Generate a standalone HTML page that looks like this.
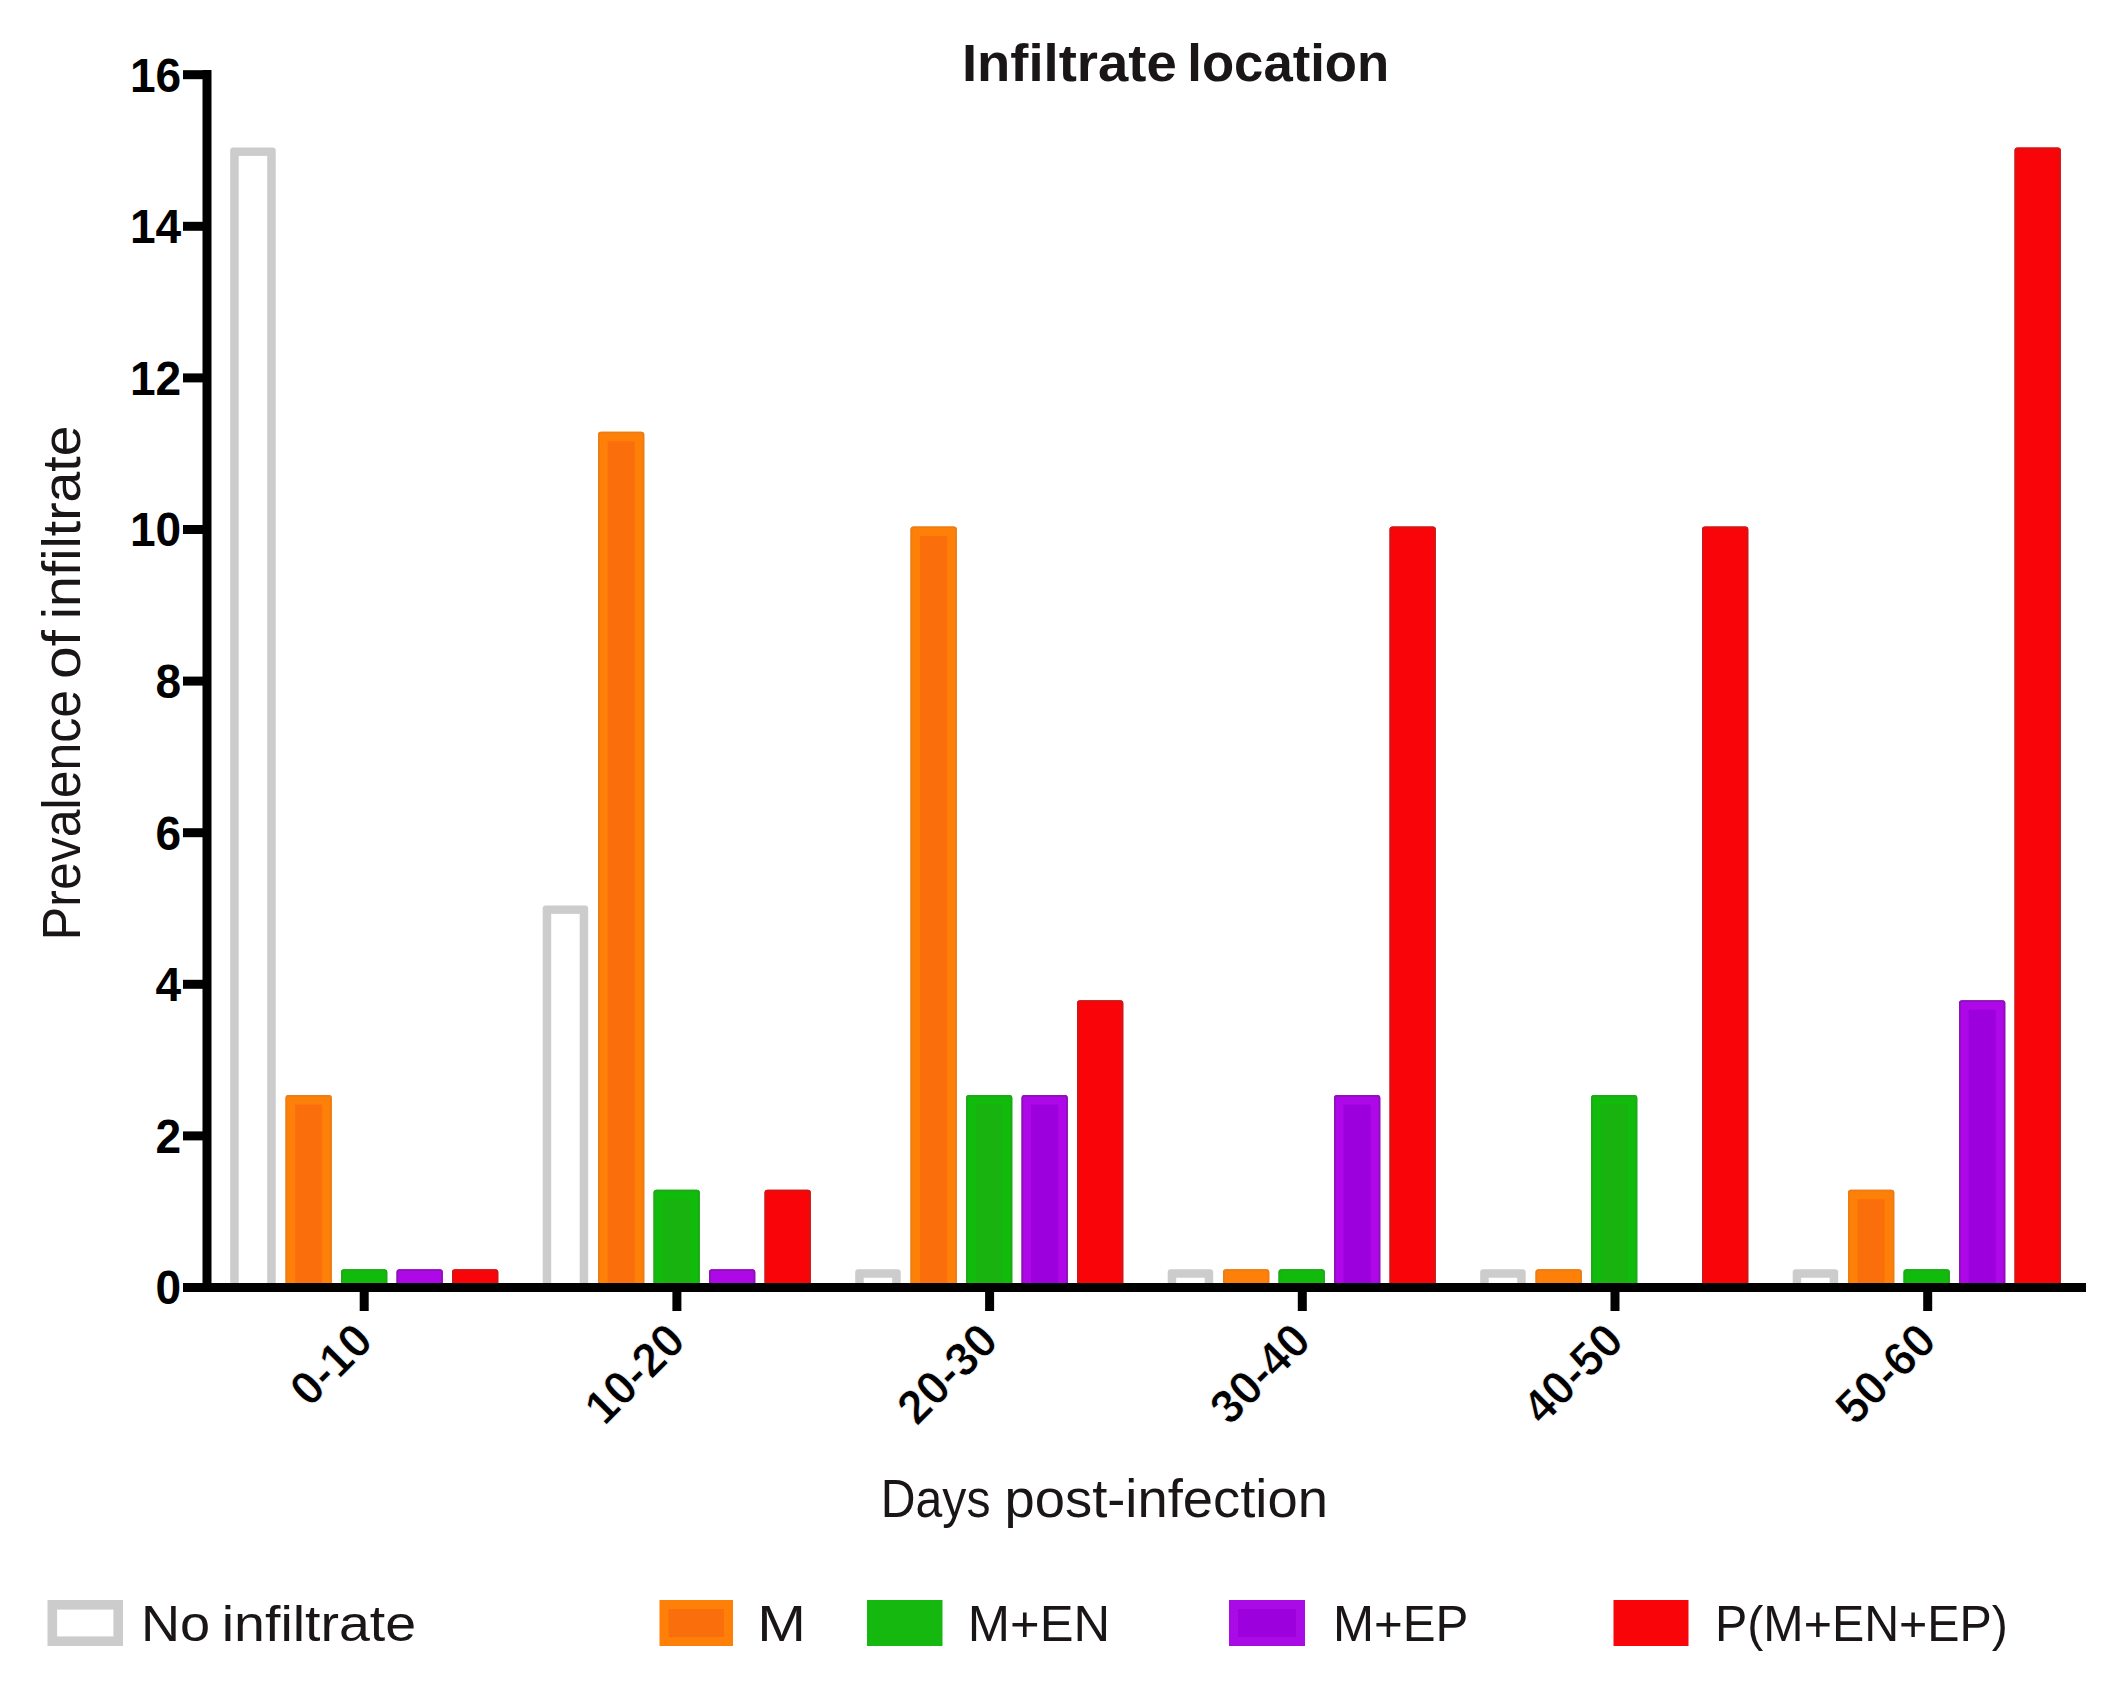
<!DOCTYPE html>
<html lang="en"><head><meta charset="utf-8"><title>Infiltrate location</title>
<style>html,body{margin:0;padding:0;background:#fff}svg{display:block}text{font-family:"Liberation Sans",sans-serif;fill:#000}.b{font-weight:bold;font-size:48px}.t{fill:#1a1516}</style></head><body>
<svg width="2121" height="1698" viewBox="0 0 2121 1698">
<rect width="2121" height="1698" fill="#fff"/>
<g>
<path d="M230.20 1287.50V150.40Q230.20 147.40 233.20 147.40H272.70Q275.70 147.40 275.70 150.40V1287.50Z" fill="#cccccc"/>
<rect x="238.70" y="155.90" width="28.50" height="1131.60" fill="#ffffff"/>
<path d="M285.50 1287.50V1097.90Q285.50 1094.90 288.50 1094.90H328.80Q331.80 1094.90 331.80 1097.90V1287.50Z" fill="#ff8009"/>
<rect x="295.10" y="1104.50" width="27.10" height="183.00" fill="#fb6e0c"/>
<path d="M286.40 1287.50V1097.90Q286.40 1095.80 288.50 1095.80H328.80Q330.90 1095.80 330.90 1097.90V1287.50" fill="none" stroke="#ea7d15" stroke-width="1.8"/>
<path d="M341.00 1287.50V1272.24Q341.00 1269.24 344.00 1269.24H384.30Q387.30 1269.24 387.30 1272.24V1287.50Z" fill="#10bb0b"/>
<path d="M341.90 1287.50V1272.24Q341.90 1270.14 344.00 1270.14H384.30Q386.40 1270.14 386.40 1272.24V1287.50" fill="none" stroke="#1fa81a" stroke-width="1.8"/>
<path d="M396.50 1287.50V1272.24Q396.50 1269.24 399.50 1269.24H439.80Q442.80 1269.24 442.80 1272.24V1287.50Z" fill="#ae08e8"/>
<path d="M397.40 1287.50V1272.24Q397.40 1270.14 399.50 1270.14H439.80Q441.90 1270.14 441.90 1272.24V1287.50" fill="none" stroke="#8c12b6" stroke-width="1.8"/>
<path d="M452.00 1287.50V1272.24Q452.00 1269.24 455.00 1269.24H495.30Q498.30 1269.24 498.30 1272.24V1287.50Z" fill="#f90509"/>
<path d="M452.90 1287.50V1272.24Q452.90 1270.14 455.00 1270.14H495.30Q497.40 1270.14 497.40 1272.24V1287.50" fill="none" stroke="#d01616" stroke-width="1.8"/>
<path d="M542.70 1287.50V908.40Q542.70 905.40 545.70 905.40H585.20Q588.20 905.40 588.20 908.40V1287.50Z" fill="#cccccc"/>
<rect x="551.20" y="913.90" width="28.50" height="373.60" fill="#ffffff"/>
<path d="M598.00 1287.50V434.65Q598.00 431.65 601.00 431.65H641.30Q644.30 431.65 644.30 434.65V1287.50Z" fill="#ff8009"/>
<rect x="607.60" y="441.25" width="27.10" height="846.25" fill="#fb6e0c"/>
<path d="M598.90 1287.50V434.65Q598.90 432.55 601.00 432.55H641.30Q643.40 432.55 643.40 434.65V1287.50" fill="none" stroke="#ea7d15" stroke-width="1.8"/>
<path d="M653.50 1287.50V1192.65Q653.50 1189.65 656.50 1189.65H696.80Q699.80 1189.65 699.80 1192.65V1287.50Z" fill="#10bb0b"/>
<rect x="663.10" y="1199.25" width="27.10" height="88.25" fill="#19b310"/>
<path d="M654.40 1287.50V1192.65Q654.40 1190.55 656.50 1190.55H696.80Q698.90 1190.55 698.90 1192.65V1287.50" fill="none" stroke="#1fa81a" stroke-width="1.8"/>
<path d="M709.00 1287.50V1272.24Q709.00 1269.24 712.00 1269.24H752.30Q755.30 1269.24 755.30 1272.24V1287.50Z" fill="#ae08e8"/>
<path d="M709.90 1287.50V1272.24Q709.90 1270.14 712.00 1270.14H752.30Q754.40 1270.14 754.40 1272.24V1287.50" fill="none" stroke="#8c12b6" stroke-width="1.8"/>
<path d="M764.50 1287.50V1192.65Q764.50 1189.65 767.50 1189.65H807.80Q810.80 1189.65 810.80 1192.65V1287.50Z" fill="#f90509"/>
<path d="M765.40 1287.50V1192.65Q765.40 1190.55 767.50 1190.55H807.80Q809.90 1190.55 809.90 1192.65V1287.50" fill="none" stroke="#d01616" stroke-width="1.8"/>
<path d="M855.20 1287.50V1272.24Q855.20 1269.24 858.20 1269.24H897.70Q900.70 1269.24 900.70 1272.24V1287.50Z" fill="#cccccc"/>
<rect x="863.70" y="1277.74" width="28.50" height="9.76" fill="#ffffff"/>
<path d="M910.50 1287.50V529.40Q910.50 526.40 913.50 526.40H953.80Q956.80 526.40 956.80 529.40V1287.50Z" fill="#ff8009"/>
<rect x="920.10" y="536.00" width="27.10" height="751.50" fill="#fb6e0c"/>
<path d="M911.40 1287.50V529.40Q911.40 527.30 913.50 527.30H953.80Q955.90 527.30 955.90 529.40V1287.50" fill="none" stroke="#ea7d15" stroke-width="1.8"/>
<path d="M966.00 1287.50V1097.90Q966.00 1094.90 969.00 1094.90H1009.30Q1012.30 1094.90 1012.30 1097.90V1287.50Z" fill="#10bb0b"/>
<rect x="975.60" y="1104.50" width="27.10" height="183.00" fill="#19b310"/>
<path d="M966.90 1287.50V1097.90Q966.90 1095.80 969.00 1095.80H1009.30Q1011.40 1095.80 1011.40 1097.90V1287.50" fill="none" stroke="#1fa81a" stroke-width="1.8"/>
<path d="M1021.50 1287.50V1097.90Q1021.50 1094.90 1024.50 1094.90H1064.80Q1067.80 1094.90 1067.80 1097.90V1287.50Z" fill="#ae08e8"/>
<rect x="1031.10" y="1104.50" width="27.10" height="183.00" fill="#9b00dd"/>
<path d="M1022.40 1287.50V1097.90Q1022.40 1095.80 1024.50 1095.80H1064.80Q1066.90 1095.80 1066.90 1097.90V1287.50" fill="none" stroke="#8c12b6" stroke-width="1.8"/>
<path d="M1077.00 1287.50V1003.15Q1077.00 1000.15 1080.00 1000.15H1120.30Q1123.30 1000.15 1123.30 1003.15V1287.50Z" fill="#f90509"/>
<path d="M1077.90 1287.50V1003.15Q1077.90 1001.05 1080.00 1001.05H1120.30Q1122.40 1001.05 1122.40 1003.15V1287.50" fill="none" stroke="#d01616" stroke-width="1.8"/>
<path d="M1167.70 1287.50V1272.24Q1167.70 1269.24 1170.70 1269.24H1210.20Q1213.20 1269.24 1213.20 1272.24V1287.50Z" fill="#cccccc"/>
<rect x="1176.20" y="1277.74" width="28.50" height="9.76" fill="#ffffff"/>
<path d="M1223.00 1287.50V1272.24Q1223.00 1269.24 1226.00 1269.24H1266.30Q1269.30 1269.24 1269.30 1272.24V1287.50Z" fill="#ff8009"/>
<path d="M1223.90 1287.50V1272.24Q1223.90 1270.14 1226.00 1270.14H1266.30Q1268.40 1270.14 1268.40 1272.24V1287.50" fill="none" stroke="#ea7d15" stroke-width="1.8"/>
<path d="M1278.50 1287.50V1272.24Q1278.50 1269.24 1281.50 1269.24H1321.80Q1324.80 1269.24 1324.80 1272.24V1287.50Z" fill="#10bb0b"/>
<path d="M1279.40 1287.50V1272.24Q1279.40 1270.14 1281.50 1270.14H1321.80Q1323.90 1270.14 1323.90 1272.24V1287.50" fill="none" stroke="#1fa81a" stroke-width="1.8"/>
<path d="M1334.00 1287.50V1097.90Q1334.00 1094.90 1337.00 1094.90H1377.30Q1380.30 1094.90 1380.30 1097.90V1287.50Z" fill="#ae08e8"/>
<rect x="1343.60" y="1104.50" width="27.10" height="183.00" fill="#9b00dd"/>
<path d="M1334.90 1287.50V1097.90Q1334.90 1095.80 1337.00 1095.80H1377.30Q1379.40 1095.80 1379.40 1097.90V1287.50" fill="none" stroke="#8c12b6" stroke-width="1.8"/>
<path d="M1389.50 1287.50V529.40Q1389.50 526.40 1392.50 526.40H1432.80Q1435.80 526.40 1435.80 529.40V1287.50Z" fill="#f90509"/>
<path d="M1390.40 1287.50V529.40Q1390.40 527.30 1392.50 527.30H1432.80Q1434.90 527.30 1434.90 529.40V1287.50" fill="none" stroke="#d01616" stroke-width="1.8"/>
<path d="M1480.20 1287.50V1272.24Q1480.20 1269.24 1483.20 1269.24H1522.70Q1525.70 1269.24 1525.70 1272.24V1287.50Z" fill="#cccccc"/>
<rect x="1488.70" y="1277.74" width="28.50" height="9.76" fill="#ffffff"/>
<path d="M1535.50 1287.50V1272.24Q1535.50 1269.24 1538.50 1269.24H1578.80Q1581.80 1269.24 1581.80 1272.24V1287.50Z" fill="#ff8009"/>
<path d="M1536.40 1287.50V1272.24Q1536.40 1270.14 1538.50 1270.14H1578.80Q1580.90 1270.14 1580.90 1272.24V1287.50" fill="none" stroke="#ea7d15" stroke-width="1.8"/>
<path d="M1591.00 1287.50V1097.90Q1591.00 1094.90 1594.00 1094.90H1634.30Q1637.30 1094.90 1637.30 1097.90V1287.50Z" fill="#10bb0b"/>
<rect x="1600.60" y="1104.50" width="27.10" height="183.00" fill="#19b310"/>
<path d="M1591.90 1287.50V1097.90Q1591.90 1095.80 1594.00 1095.80H1634.30Q1636.40 1095.80 1636.40 1097.90V1287.50" fill="none" stroke="#1fa81a" stroke-width="1.8"/>
<path d="M1702.00 1287.50V529.40Q1702.00 526.40 1705.00 526.40H1745.30Q1748.30 526.40 1748.30 529.40V1287.50Z" fill="#f90509"/>
<path d="M1702.90 1287.50V529.40Q1702.90 527.30 1705.00 527.30H1745.30Q1747.40 527.30 1747.40 529.40V1287.50" fill="none" stroke="#d01616" stroke-width="1.8"/>
<path d="M1792.70 1287.50V1272.24Q1792.70 1269.24 1795.70 1269.24H1835.20Q1838.20 1269.24 1838.20 1272.24V1287.50Z" fill="#cccccc"/>
<rect x="1801.20" y="1277.74" width="28.50" height="9.76" fill="#ffffff"/>
<path d="M1848.00 1287.50V1192.65Q1848.00 1189.65 1851.00 1189.65H1891.30Q1894.30 1189.65 1894.30 1192.65V1287.50Z" fill="#ff8009"/>
<rect x="1857.60" y="1199.25" width="27.10" height="88.25" fill="#fb6e0c"/>
<path d="M1848.90 1287.50V1192.65Q1848.90 1190.55 1851.00 1190.55H1891.30Q1893.40 1190.55 1893.40 1192.65V1287.50" fill="none" stroke="#ea7d15" stroke-width="1.8"/>
<path d="M1903.50 1287.50V1272.24Q1903.50 1269.24 1906.50 1269.24H1946.80Q1949.80 1269.24 1949.80 1272.24V1287.50Z" fill="#10bb0b"/>
<path d="M1904.40 1287.50V1272.24Q1904.40 1270.14 1906.50 1270.14H1946.80Q1948.90 1270.14 1948.90 1272.24V1287.50" fill="none" stroke="#1fa81a" stroke-width="1.8"/>
<path d="M1959.00 1287.50V1003.15Q1959.00 1000.15 1962.00 1000.15H2002.30Q2005.30 1000.15 2005.30 1003.15V1287.50Z" fill="#ae08e8"/>
<rect x="1968.60" y="1009.75" width="27.10" height="277.75" fill="#9b00dd"/>
<path d="M1959.90 1287.50V1003.15Q1959.90 1001.05 1962.00 1001.05H2002.30Q2004.40 1001.05 2004.40 1003.15V1287.50" fill="none" stroke="#8c12b6" stroke-width="1.8"/>
<path d="M2014.50 1287.50V150.40Q2014.50 147.40 2017.50 147.40H2057.80Q2060.80 147.40 2060.80 150.40V1287.50Z" fill="#f90509"/>
<path d="M2015.40 1287.50V150.40Q2015.40 148.30 2017.50 148.30H2057.80Q2059.90 148.30 2059.90 150.40V1287.50" fill="none" stroke="#d01616" stroke-width="1.8"/>
</g>
<g fill="#000">
<rect x="202.5" y="70" width="9" height="1222"/>
<rect x="183" y="1283" width="1903" height="9"/>
<rect x="183" y="1131.40" width="20" height="9"/>
<rect x="183" y="979.80" width="20" height="9"/>
<rect x="183" y="828.20" width="20" height="9"/>
<rect x="183" y="676.60" width="20" height="9"/>
<rect x="183" y="525.00" width="20" height="9"/>
<rect x="183" y="373.40" width="20" height="9"/>
<rect x="183" y="221.80" width="20" height="9"/>
<rect x="183" y="70.20" width="20" height="9"/>
<rect x="359.70" y="1290" width="9" height="21"/>
<rect x="672.40" y="1290" width="9" height="21"/>
<rect x="985.10" y="1290" width="9" height="21"/>
<rect x="1297.80" y="1290" width="9" height="21"/>
<rect x="1610.50" y="1290" width="9" height="21"/>
<rect x="1923.20" y="1290" width="9" height="21"/>
</g>
<g class="b" text-anchor="end">
<text transform="translate(181.2 1304.40) scale(0.96 1)">0</text>
<text transform="translate(181.2 1152.80) scale(0.96 1)">2</text>
<text transform="translate(181.2 1001.20) scale(0.96 1)">4</text>
<text transform="translate(181.2 849.60) scale(0.96 1)">6</text>
<text transform="translate(181.2 698.00) scale(0.96 1)">8</text>
<text transform="translate(181.2 546.40) scale(0.96 1)">10</text>
<text transform="translate(181.2 394.80) scale(0.96 1)">12</text>
<text transform="translate(181.2 243.20) scale(0.96 1)">14</text>
<text transform="translate(181.2 91.60) scale(0.96 1)">16</text>
</g>
<g class="b" text-anchor="end" style="font-size:47.5px;stroke:#fff;stroke-width:0.7px">
<text transform="translate(375.00 1343.4) rotate(-45) scale(0.97 1)">0-10</text>
<text transform="translate(687.70 1343.4) rotate(-45) scale(0.97 1)">10-20</text>
<text transform="translate(1000.40 1343.4) rotate(-45) scale(0.97 1)">20-30</text>
<text transform="translate(1313.10 1343.4) rotate(-45) scale(0.97 1)">30-40</text>
<text transform="translate(1625.80 1343.4) rotate(-45) scale(0.97 1)">40-50</text>
<text transform="translate(1938.50 1343.4) rotate(-45) scale(0.97 1)">50-60</text>
</g>
<text class="t" transform="translate(0 81.00)" font-size="52.7" font-weight="bold"><tspan x="961.92" textLength="214.84" lengthAdjust="spacingAndGlyphs">Infiltrate</tspan> <tspan x="1187.31" textLength="201.90" lengthAdjust="spacingAndGlyphs">location</tspan></text>
<text class="t" transform="translate(80.20 0) rotate(-90)" font-size="54"><tspan x="-940.13" textLength="250.28" lengthAdjust="spacingAndGlyphs">Prevalence</tspan> <tspan x="-678.99" textLength="48.93" lengthAdjust="spacingAndGlyphs">of</tspan> <tspan x="-619.23" textLength="193.67" lengthAdjust="spacingAndGlyphs">infiltrate</tspan></text>
<text class="t" transform="translate(0 1516.50)" font-size="53.2"><tspan x="880.78" textLength="109.70" lengthAdjust="spacingAndGlyphs">Days</tspan> <tspan x="1004.46" textLength="323.49" lengthAdjust="spacingAndGlyphs">post-infection</tspan></text>
<g>
<rect x="52.3" y="1604.8" width="65.9" height="36.4" fill="#fff" stroke="#cccccc" stroke-width="9.6"/>
<rect x="659.5" y="1600" width="73.5" height="46" fill="#ff8009"/><rect x="668.5" y="1609" width="55.5" height="28" fill="#fb6e0c"/>
<rect x="867" y="1600" width="75.5" height="46" fill="#14b80f"/>
<rect x="1229" y="1600" width="76" height="46" fill="#a90be7"/><rect x="1238" y="1609" width="58" height="28" fill="#9b00dd"/>
<rect x="1613.5" y="1600" width="75" height="46" fill="#f90509"/>
</g>
<text class="t" transform="translate(0 1640.50)" font-size="50.6"><tspan x="141.04" textLength="69.17" lengthAdjust="spacingAndGlyphs">No</tspan> <tspan x="221.75" textLength="194.39" lengthAdjust="spacingAndGlyphs">infiltrate</tspan></text>
<text class="t" transform="translate(757.18 1640.50) scale(1.1547 1)" font-size="50.6">M</text>
<text class="t" transform="translate(967.82 1640.50) scale(1.0022 1)" font-size="50.6">M+EN</text>
<text class="t" transform="translate(1332.93 1640.50) scale(0.9740 1)" font-size="50.6">M+EP</text>
<text class="t" transform="translate(1715.01 1640.50) scale(0.9560 1)" font-size="50.6">P(M+EN+EP)</text>
</svg></body></html>
